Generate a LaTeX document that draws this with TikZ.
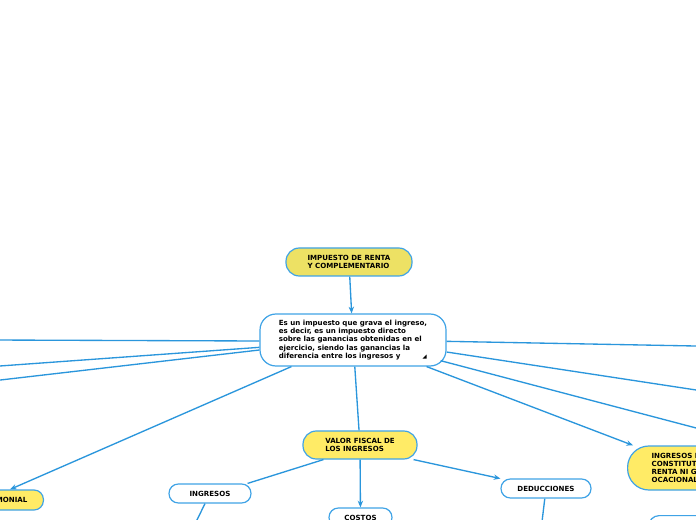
\documentclass[tikz,border=0pt]{standalone}
\usepackage{fontspec}
\setmainfont{DejaVu Sans}
\usetikzlibrary{arrows.meta}

\definecolor{lineblue}{HTML}{2A96DC}
\definecolor{edgeblue}{HTML}{3FA3E6}
\definecolor{mustard}{HTML}{EDE164}
\definecolor{lemon}{HTML}{FFEB66}

\tikzset{
  topic/.style={draw=edgeblue, line width=0.9pt, fill=white, align=left,
    font=\fontsize{5.3pt}{6.2pt}\selectfont\bfseries, inner sep=2pt},
  pill/.style={topic, rounded corners=7pt, minimum height=14.25pt},
  bigpill/.style={topic, rounded corners=10pt, minimum height=21pt},
  link/.style={draw=lineblue, line width=1pt},
  arrowlink/.style={link, -{Stealth[length=5pt,width=4pt]}}
}

\begin{document}
\begin{tikzpicture}[x=0.75pt, y=-0.75pt]
    % marco de la imagen
    \useasboundingbox[fill=white] (0,0) rectangle (696,520);
    \clip (0,0) rectangle (696,520);

    % nodo principal
    \node[bigpill, fill=mustard, minimum width=94.5pt] (imp) at (349,262)
        {IMPUESTO DE RENTA\\Y COMPLEMENTARIO};
    \node[topic, rounded corners=12pt, minimum width=139.5pt, minimum height=39pt] (main) at (353,340)
        {Es un impuesto que grava el ingreso,\\es decir, es un impuesto directo\\sobre las ganancias obtenidas en el\\ejercicio, siendo las ganancias la\\diferencia entre los ingresos y};
    % triangulito de la nota
    \fill (422.5,358.5) -- (426.5,358.5) -- (426.5,354.5) -- cycle;

    % segundo nivel
    \node[bigpill, fill=lemon, minimum width=85.5pt] (valor) at (360,445)
        {VALOR FISCAL DE\\LOS INGRESOS};
    \node[pill, fill=lemon, anchor=east, inner xsep=12pt, minimum height=15pt] (patrim) at (44,500)
        {PATRIMONIAL};
    \node[topic, fill=lemon, rounded corners=16pt, anchor=west, inner xsep=18pt,
        minimum height=33pt] (ingno) at (627,468)
        {INGRESOS NO\\CONSTITUTIVOS DE\\RENTA NI GANANCIA\\OCACIONAL};
    \node[topic, rounded corners=8pt, anchor=north west, minimum width=80pt,
        minimum height=20pt] (extra) at (648,515) {};

    % tercer nivel
    \node[pill, minimum width=61.5pt] (ingresos) at (210,493.5) {INGRESOS};
    \node[pill, minimum width=47.25pt] (costos) at (360.5,517.5) {COSTOS};
    \node[pill, minimum width=67.5pt] (deducc) at (546,488.5) {DEDUCCIONES};

    % extremos fuera del cuadro
    \coordinate (izq1) at (-10,340);
    \coordinate (izq2) at (-10,366.7);
    \coordinate (izq3) at (-10,381.2);
    \coordinate (der1) at (706,346.2);
    \coordinate (der2) at (706,391.5);
    \coordinate (der3) at (706,430.6);
    \coordinate (ingout) at (192,530);
    \coordinate (dedout) at (541,530);

    % conectores
    \draw[arrowlink] (imp) -- (main);
    \draw[link] (main) -- (valor);
    \draw[arrowlink] ([xshift=24pt]main.south west) -- ([xshift=-25.5pt]patrim.north east);
    \draw[arrowlink] ([xshift=-15pt]main.south east) -- (ingno);
    \draw[link] ([yshift=-0.75pt]main.west) -- (izq1);
    \draw[link] ([yshift=-5.5pt]main.west) -- (izq2);
    \draw[link] ([yshift=-7.5pt]main.west) -- (izq3);
    \draw[link] ([yshift=-1pt]main.east) -- (der1);
    \draw[link] ([yshift=-9pt]main.east) -- (der2);
    \draw[link] ([xshift=-4.5pt,yshift=-15.5pt]main.east) -- (der3);

    \draw[link] ([xshift=15.75pt]valor.south west) -- ([xshift=-3pt]ingresos.north east);
    \draw[arrowlink] (valor) -- (costos);
    \draw[arrowlink] ([xshift=-3pt]valor.south east) -- (deducc);
    \draw[link] (ingresos) -- (ingout);
    \draw[link] (deducc) -- (dedout);
\end{tikzpicture}
\end{document}
